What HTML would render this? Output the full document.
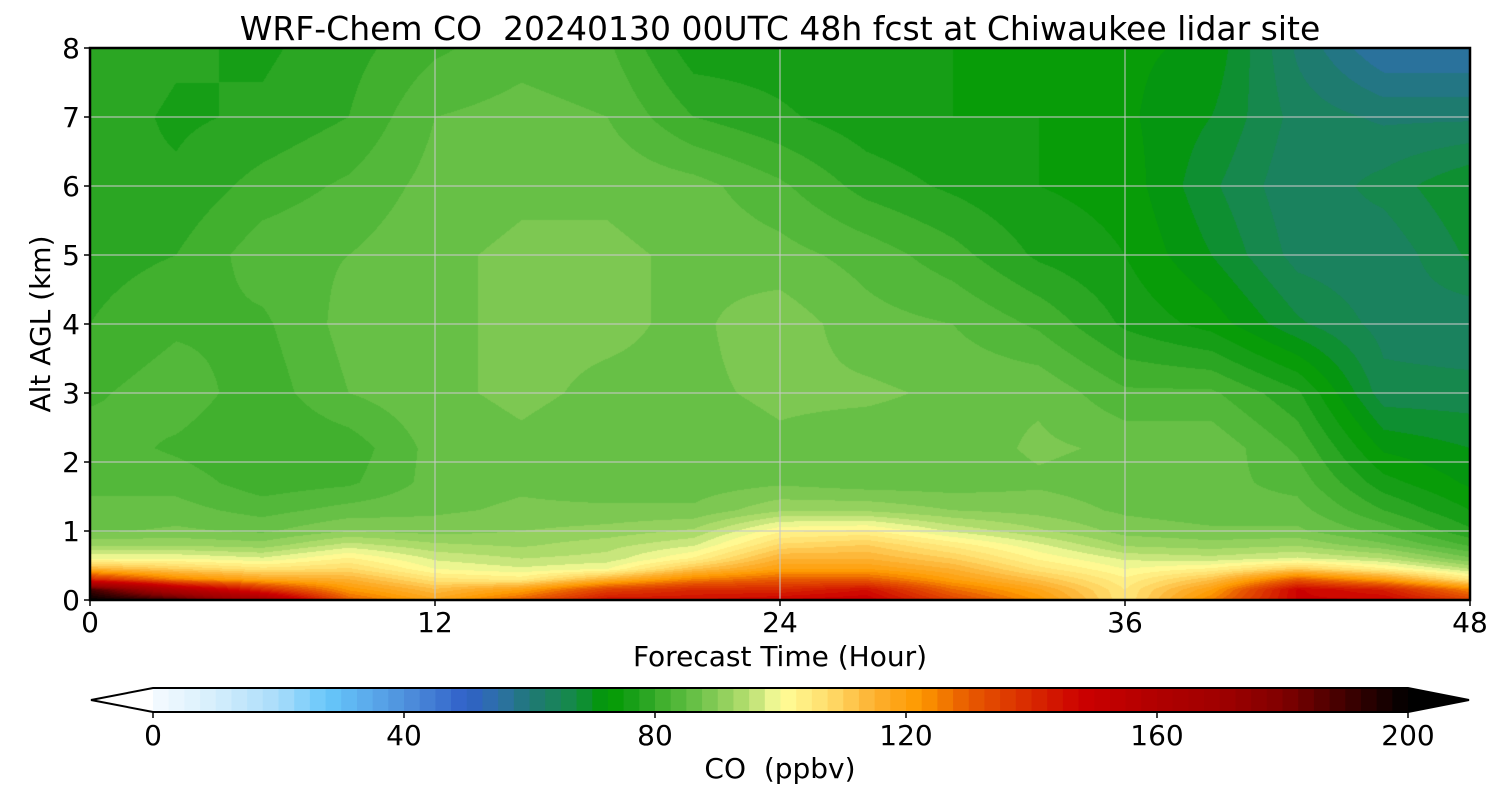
<!DOCTYPE html>
<html><head><meta charset="utf-8">
<style>
body{margin:0;background:#fff;width:1500px;height:800px;overflow:hidden;font-family:"DejaVu Sans",sans-serif}
#wrap{position:relative;width:1500px;height:800px}
canvas{position:absolute;left:90px;top:48px}
svg{position:absolute;left:0;top:0}
text{white-space:pre}
</style></head><body>
<div id="wrap">
<canvas id="cv" width="1380" height="552"></canvas>
<svg id="sv" width="1500" height="800"></svg>
</div>
<script>
const hours=[0,3,6,9,12,15,18,21,24,27,30,33,36,39,42,45,48];
const alts=[0,0.15,0.3,0.45,0.6,0.8,1.0,1.3,1.7,2.2,3,4,5,6,7,8];
// coValues[hourIndex][altIndex] in ppbv
const coValues=[
[200,190,140,115,100,92,87,85,85,84,82,80,79,78,79,80],
[190,160,125,110,100,92,88,86,84,82,84,82,80,78,77,78],
[165,140,118,106,98,91,87,84,81,80,81,82,84,81,78,77],
[130,122,115,108,103,96,90,86,82,81,85,86,85,83,80,79],
[118,113,106,100,97,93,89,87,86,86,87,87,87,86,85,82],
[130,120,104,98,95,92,90,88,87,87,88,88,88,87,86,84],
[145,135,115,100,96,94,91,88,86,86,87,88,88,87,85,83],
[145,140,125,112,103,97,93,88,86,86,87,87,87,86,80,76],
[148,140,130,120,115,108,102,92,87,87,88,89,86,83,78,76],
[150,145,130,120,115,110,103,92,86,86,88,86,84,79,76,75],
[135,128,120,115,110,104,97,90,86,86,87,85,81,77,75,75],
[122,118,112,106,102,98,93,89,87,88,87,82,77,75,75,74],
[105,105,103,100,97,92,89,87,86,87,83,77,75,74,73,73],
[125,120,112,103,96,91,88,86,86,87,83,74,70,68,70,72],
[148,148,130,110,98,92,88,86,84,82,78,68,64,63,64,62],
[148,142,120,103,95,88,84,80,76,72,66,64,63,66,62,55],
[135,125,105,95,88,82,78,75,72,70,66,63,68,70,62,55]
];
const xTicks=[0,12,24,36,48];
const yTicks=[0,1,2,3,4,5,6,7,8];
const cbTicks=[0,40,80,120,160,200];
const cmapVals=[0,10,20,28,35,42,50,55,60,67,72.5,77.5,80,85,90,95,97.5,100,107,115,122,130,140,148,160,170,180,190,200];
const cmapCols=["#f5faff","#d5eefc","#a8dcfa","#66c6fa","#5aa8ea","#4a88d8","#3060c8","#2d70a8","#207878","#158a48","#009a00","#1ea01e","#38ac28","#5cbc40","#88cc58","#b8e070","#d8ec88","#ffff99","#ffe070","#fdb030","#fe9a00","#e85a00","#d82800","#cc0000","#b00000","#a00000","#800000","#400000","#000000"];

const X0=90,X1=1470,Y0=600,Y1=48;
const xs=h=>X0+(h-0)/48*(X1-X0);
const ys=a=>Y0-(a/8)*(Y0-Y1);
const cbx=v=>153+v/200*(1408-153);
function hex(c){return [parseInt(c.substr(1,2),16),parseInt(c.substr(3,2),16),parseInt(c.substr(5,2),16)];}
const cmapRGB=cmapCols.map(hex);
function color(v){
  v=Math.max(0,Math.min(200,v));
  for(let i=0;i<cmapVals.length-1;i++){
    if(v<=cmapVals[i+1]){const t=(v-cmapVals[i])/(cmapVals[i+1]-cmapVals[i]);
      const a=cmapRGB[i],b=cmapRGB[i+1];return [a[0]+(b[0]-a[0])*t,a[1]+(b[1]-a[1])*t,a[2]+(b[2]-a[2])*t];}
  }
  return cmapRGB[cmapRGB.length-1];
}
function quant(v){if(v>=200)return 200;if(v<0)return 0;return Math.floor(v/2.5)*2.5+1.25;}
function locate(arr,v){let i=0;while(i<arr.length-2&&v>arr[i+1])i++;const t=(v-arr[i])/(arr[i+1]-arr[i]);return [i,Math.max(0,Math.min(1,t))];}
function sample(h,a){
  const [i,tx]=locate(hours,h),[j,ty]=locate(alts,a);
  const v00=coValues[i][j],v10=coValues[i+1][j],v01=coValues[i][j+1],v11=coValues[i+1][j+1];
  return (v00*(1-tx)+v10*tx)*(1-ty)+(v01*(1-tx)+v11*tx)*ty;
}
const cv=document.getElementById('cv'),ctx=cv.getContext('2d');
const W=cv.width,H=cv.height,img=ctx.createImageData(W,H);
for(let py=0;py<H;py++){
  const a=(Y0-(Y1+py+0.5))/(Y0-Y1)*8;
  for(let px=0;px<W;px++){
    const h=(px+0.5)/(X1-X0)*48;
    const c=color(quant(sample(h,a)));
    const k=(py*W+px)*4;img.data[k]=c[0];img.data[k+1]=c[1];img.data[k+2]=c[2];img.data[k+3]=255;
  }
}
ctx.putImageData(img,0,0);

const sv=document.getElementById('sv');const NS="http://www.w3.org/2000/svg";
function el(tag,attrs,parent){const e=document.createElementNS(NS,tag);for(const k in attrs)e.setAttribute(k,attrs[k]);(parent||sv).appendChild(e);return e;}
function txt(s,x,y,size,anchor,name){const t=el('text',{x:x,y:y,'font-size':size,'text-anchor':anchor||'middle',fill:'#000','font-family':'DejaVu Sans, sans-serif'});t.textContent=s;


return t;}
xTicks.slice(1,-1).forEach(h=>{const l=el('line',{x1:xs(h),x2:xs(h),y1:Y1,y2:Y0,stroke:'#c8c8c8','stroke-width':1.2,'stroke-opacity':0.85});

});
yTicks.slice(1,-1).forEach(a=>{const l=el('line',{x1:X0,x2:X1,y1:ys(a),y2:ys(a),stroke:'#c8c8c8','stroke-width':1.2,'stroke-opacity':0.85});

});
const fr=el('rect',{x:X0,y:Y1,width:X1-X0,height:Y0-Y1,fill:'none',stroke:'#000','stroke-width':2.5});


xTicks.forEach(h=>{const t=el('line',{x1:xs(h),x2:xs(h),y1:Y0,y2:Y0+6,stroke:'#000','stroke-width':1.5});


txt(String(h),xs(h),Y0+32,28,'middle','x-tick-label');});
yTicks.forEach(a=>{const t=el('line',{x1:X0-6,x2:X0,y1:ys(a),y2:ys(a),stroke:'#000','stroke-width':1.5});


txt(String(a),X0-10,ys(a)+10,28,'end','y-tick-label');});
txt('WRF-Chem CO  20240130 00UTC 48h fcst at Chiwaukee lidar site',780,40,33,'middle','chart-title');
txt('Forecast Time (Hour)',780,666,28,'middle','x-axis-title');
const yt=txt('Alt AGL (km)',0,0,28,'middle','y-axis-title');yt.setAttribute('transform','translate(50,324) rotate(-90)');
for(let v=0;v<200;v+=2.5){const r=el('rect',{x:cbx(v),y:688,width:cbx(v+2.5)-cbx(v)+0.6,height:24,fill:'rgb('+color(v+1.25).map(Math.round).join(',')+')'});

}
const lt=el('polygon',{points:'153,688 91,700 153,712',fill:'#fff',stroke:'none'});


const rt=el('polygon',{points:'1408,688 1469,700 1408,712',fill:'#000'});


const ol=el('polygon',{points:'153,688 1408,688 1469,700 1408,712 153,712 91,700',fill:'none',stroke:'#000','stroke-width':2});


cbTicks.forEach(v=>{const t=el('line',{x1:cbx(v),x2:cbx(v),y1:712,y2:718,stroke:'#000','stroke-width':1.5});


txt(String(v),cbx(v),745,28,'middle','colorbar-tick-label');});
txt('CO  (ppbv)',780,778,28,'middle','colorbar-title');
</script>
</body></html>
